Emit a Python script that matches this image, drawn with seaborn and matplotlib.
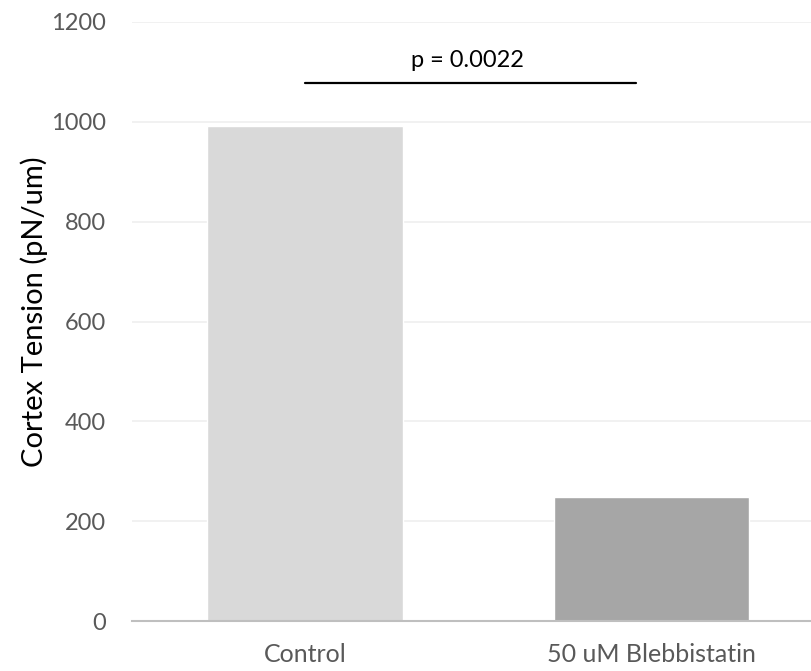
import matplotlib
matplotlib.use("Agg")
import matplotlib.pyplot as plt
import seaborn as sns
import pandas as pd

conditions = ["Control", "50 uM Blebbistatin"]
tension = [992, 248]
bar_colors = ["#D9D9D9", "#A6A6A6"]
y_ticks = [0, 200, 400, 600, 800, 1000, 1200]
p_label = "p = 0.0022"
bracket_level = 1077

sns.set_theme(style="white")
plt.rcParams["font.family"] = ["Lato", "DejaVu Sans"]

df = pd.DataFrame({"condition": conditions, "tension": tension})

fig = plt.figure(figsize=(8.12, 6.71), dpi=100)
ax = fig.add_axes([132 / 812, 50 / 671, 692.5 / 812, 599 / 671])

sns.barplot(data=df, x="condition", y="tension", hue="condition",
            palette=bar_colors, width=0.564, saturation=1, legend=False, ax=ax)

ax.set_xlim(-0.5, 1.5)
ax.set_ylim(0, 1200)
ax.set_yticks(y_ticks)
ax.set_yticklabels([str(t) for t in y_ticks])
ax.yaxis.grid(True, color="#EFEFEF", linewidth=1.2)
ax.set_axisbelow(True)

for side in ["top", "right", "left"]:
    ax.spines[side].set_visible(False)
ax.spines["bottom"].set_color("#BFBFBF")
ax.spines["bottom"].set_linewidth(1.5)

ax.tick_params(axis="y", length=0, labelsize=17, labelcolor="#595959", pad=19)
ax.tick_params(axis="x", length=0, labelsize=18, labelcolor="#595959", pad=16)
ax.set_xlabel("")
ax.set_ylabel("Cortex Tension (pN/um)", fontsize=21, color="black")
ax.yaxis.set_label_coords(-0.121, 0.516)

ax.plot([0, 0.955], [bracket_level, bracket_level], color="black", linewidth=1.6,
        clip_on=False)
ax.text(0.47, bracket_level + 25, p_label, ha="center", va="bottom",
        fontsize=17, color="black")

fig.savefig("out.png", dpi=100)
